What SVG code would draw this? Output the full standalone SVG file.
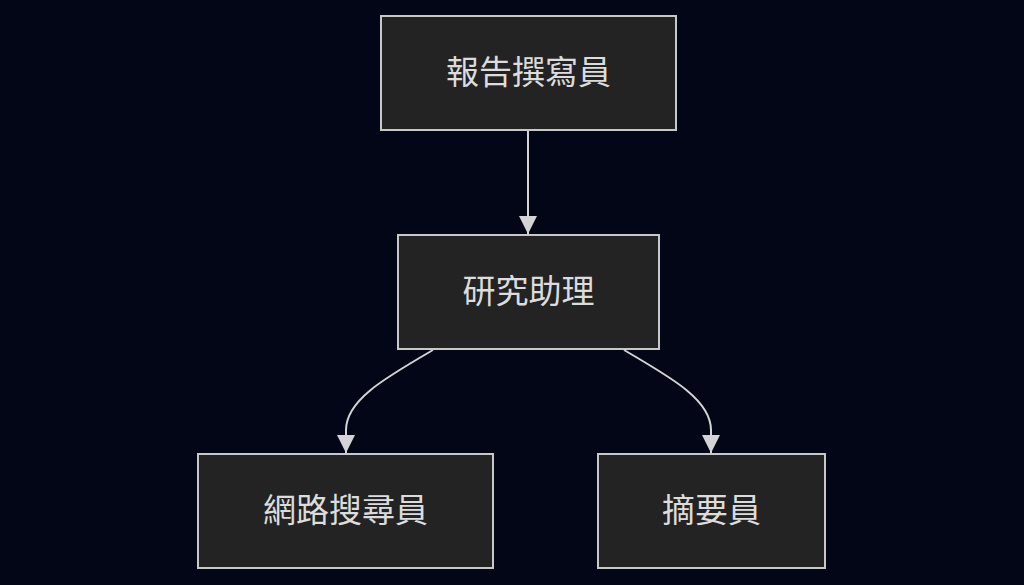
<svg xmlns="http://www.w3.org/2000/svg" width="1024" height="585" viewBox="0 0 1024 585">
<defs>
<style>
.node rect{fill:#222322;stroke:#c8c8c8;stroke-width:2}
.node text{fill:#dcdcdc;font-family:"Noto Sans CJK TC","Noto Sans CJK SC",sans-serif;font-size:33px;text-anchor:middle;dominant-baseline:central}
.edge{fill:none;stroke:#d4d4d4;stroke-width:2}
</style>
<marker id="arrow" viewBox="0 0 10 10" refX="10" refY="5" markerWidth="9" markerHeight="9" markerUnits="strokeWidth" orient="auto">
<path d="M0,0 L10,5 L0,10 z" fill="#d4d4d4"/>
</marker>
</defs>
<rect width="1024" height="585" fill="#020617"/>
<g id="edges">
<path class="edge" d="M528,131 L528,234" marker-end="url(#arrow)"/>
<path class="edge" d="M433,350 C385,378 346,400 346,430 L346,453" marker-end="url(#arrow)"/>
<path class="edge" d="M624,350 C672,378 711,400 711,430 L711,453" marker-end="url(#arrow)"/>
</g>
<g id="n1" class="node"><rect x="381" y="16" width="295" height="114"/><text x="528.5" y="70">報告撰寫員</text></g>
<g id="n2" class="node"><rect x="398" y="235" width="261" height="114"/><text x="528.5" y="289">研究助理</text></g>
<g id="n3" class="node"><rect x="198" y="454" width="295" height="114"/><text x="345.5" y="508">網路搜尋員</text></g>
<g id="n4" class="node"><rect x="598" y="454" width="227" height="114"/><text x="711.5" y="508">摘要員</text></g>
</svg>
